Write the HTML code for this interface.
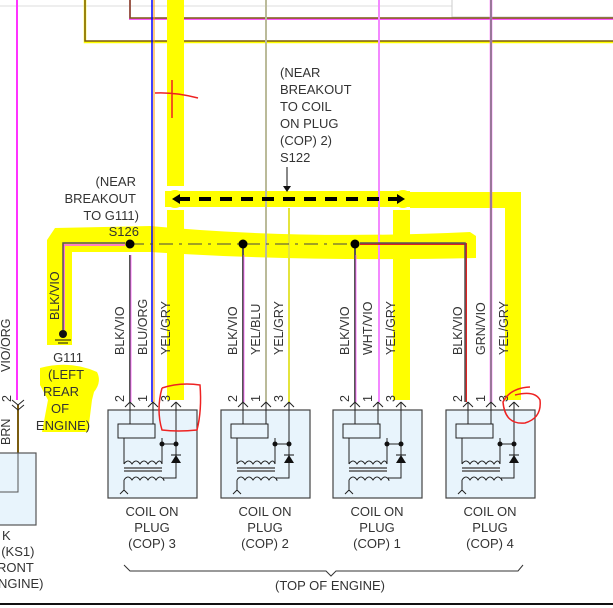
<!DOCTYPE html>
<html><head><meta charset="utf-8"><style>
html,body{margin:0;padding:0;background:#fff;}
svg{display:block;font-family:"Liberation Sans",Arial,sans-serif;}
</style></head><body>
<svg width="613" height="608" viewBox="0 0 613 608" xmlns="http://www.w3.org/2000/svg">
<defs>
<g id="coil">
  <rect x="0" y="0" width="89" height="88" fill="#e8f4fc" stroke="#444" stroke-width="1.2"/>
  <path d="M22 -8 l-5 5 M22 -8 l5 5 M45 -8 l-5 5 M45 -8 l5 5 M68 -8 l-5 5 M68 -8 l5 5" stroke="#222" fill="none"/>
  <path d="M22 -8 V14 M45 -8 V14 M68 -8 V68 H55" stroke="#222" fill="none"/>
  <rect x="10" y="14" width="37" height="14" fill="#e8f4fc" stroke="#222"/>
  <path d="M16 28 V54 M54 28 V34 H68 M54 34 V54" stroke="#222" fill="none"/>
  <circle cx="54" cy="34" r="2.5" fill="#111"/><circle cx="68" cy="34" r="2.5" fill="#111"/>
  <path d="M63 53 H73 L68 45 Z" fill="#111"/><path d="M63 45 H73" stroke="#111"/>
  <path d="M16 54 q4 -6 8 0 q4 -6 8 0 q4 -6 8 0 q4 -6 8 0 q4 -6 6 0" stroke="#222" fill="none"/>
  <path d="M16 58 H54 M16 61 H54" stroke="#555" stroke-width="1.5"/>
  <path d="M16 70 q4 -6 8 0 q4 -6 8 0 q4 -6 8 0 q4 -6 8 0 q4 -6 8 0 H55 M16 70 V80 M16 80 l-4 4 M16 80 l4 4" stroke="#222" fill="none"/>
</g>
</defs>
<!-- top -->
<line x1="0" y1="6" x2="452" y2="6" stroke="#ddd"/>
<rect x="452" y="-1" width="170" height="18" fill="#fff" stroke="#ccc"/>
<path d="M130 0 V19 H613" stroke="#f5f" stroke-width="2" fill="none"/>
<path d="M130 0 V18 H613" stroke="#7a5c10" stroke-width="1.5" fill="none"/>
<path d="M85 0 V42 H613" stroke="#ff0" stroke-width="2.5" fill="none"/>
<path d="M85 0 V41 H613" stroke="#7a5c10" stroke-width="1.5" fill="none"/>

<!-- highlights -->
<rect x="167" y="0" width="17" height="186" fill="#ff0"/>
<rect x="167" y="210" width="17" height="190" fill="#ff0"/>
<rect x="410" y="192" width="111" height="16" fill="#ff0"/>
<rect x="505" y="192" width="16" height="208" fill="#ff0"/>
<rect x="393" y="210" width="17" height="190" fill="#ff0"/>
<rect x="165" y="191" width="245" height="16" fill="#ff0"/>
<circle cx="175" cy="199" r="9" fill="#ff0"/><circle cx="403" cy="199" r="9" fill="#ff0"/>
<path d="M55 228 L150 226 Q300 240 470 232 L476 236 L476 258 Q300 262 150 252 L72 252 L72 345 L47 345 L47 240 Z" fill="#ff0"/>
<path d="M40 368 Q70 360 97 372 Q102 382 94 392 L92 400 L88 432 L42 432 L48 400 L40 385 Z" fill="#ff0"/>

<!-- verticals -->
<line x1="17" y1="0" x2="17" y2="400" stroke="#f3f" stroke-width="2"/>
<line x1="18" y1="405" x2="18" y2="453" stroke="#7a5c10" stroke-width="2"/>
<line x1="152" y1="0" x2="152" y2="402" stroke="#00f" stroke-width="1.5"/>
<line x1="154" y1="0" x2="154" y2="402" stroke="#f90" stroke-width="1"/>
<line x1="266" y1="0" x2="266" y2="402" stroke="#99f" stroke-width="2"/>
<line x1="266" y1="0" x2="266" y2="402" stroke="#ee0" stroke-width="0.8"/>
<line x1="379" y1="0" x2="379" y2="402" stroke="#e5f" stroke-width="2"/>
<line x1="379" y1="0" x2="379" y2="402" stroke="#fff" stroke-width="0.6"/>
<line x1="491" y1="0" x2="491" y2="402" stroke="#f5f" stroke-width="2.5"/>
<line x1="491" y1="0" x2="491" y2="402" stroke="#393" stroke-width="1"/>
<line x1="289" y1="208" x2="289" y2="402" stroke="#ee0" stroke-width="2"/>
<line x1="289" y1="208" x2="289" y2="402" stroke="#ccc" stroke-width="0.6"/>

<!-- splice line -->
<path d="M64 330 V245 H125" stroke="#f5f" stroke-width="1.5" fill="none"/>
<path d="M63 330 V243 H125" stroke="#555" stroke-width="1.5" fill="none"/>
<line x1="130" y1="244" x2="355" y2="244" stroke="#444" stroke-width="1" stroke-dasharray="14 6 3 6"/>
<path d="M360 244 H466 V402" stroke="#d22" stroke-width="2" fill="none"/>
<path d="M360 243 H465 V402" stroke="#555" stroke-width="1.5" fill="none"/>
<line x1="130" y1="255" x2="130" y2="402" stroke="#555" stroke-width="2"/>
<line x1="131" y1="255" x2="131" y2="402" stroke="#f5f" stroke-width="0.8"/>
<line x1="243" y1="244" x2="243" y2="402" stroke="#555" stroke-width="2"/>
<line x1="244" y1="255" x2="244" y2="402" stroke="#f5f" stroke-width="0.8"/>
<line x1="355" y1="244" x2="355" y2="402" stroke="#555" stroke-width="2"/>
<line x1="356" y1="255" x2="356" y2="402" stroke="#f5f" stroke-width="0.8"/>
<circle cx="130" cy="244" r="4.5" fill="#000"/>
<circle cx="243" cy="244" r="4.5" fill="#000"/>
<circle cx="355" cy="244" r="4.5" fill="#000"/>

<!-- ground -->
<circle cx="63" cy="334" r="4" fill="#111"/>
<path d="M55 340 H71 M58 343 H68" stroke="#111"/>

<!-- dashed -->
<line x1="178" y1="199" x2="398" y2="199" stroke="#000" stroke-width="4" stroke-dasharray="12 9"/>
<path d="M172 199 l8 -5 v10 z M405 199 l-8 -5 v10 z" fill="#000"/>
<line x1="287" y1="167" x2="287" y2="188" stroke="#111"/>
<path d="M283 186 h8 l-4 6 z" fill="#111"/>

<!-- text -->
<g font-size="13" fill="#333">
<text x="280" y="77">(NEAR</text><text x="280" y="94">BREAKOUT</text><text x="280" y="111">TO COIL</text><text x="280" y="128">ON PLUG</text><text x="280" y="145">(COP) 2)</text><text x="280" y="162">S122</text>
<g text-anchor="end"><text x="136" y="186">(NEAR</text><text x="136" y="203">BREAKOUT</text><text x="139" y="220">TO G111)</text><text x="139" y="236">S126</text></g>
<g text-anchor="middle"><text x="68" y="362">G111</text><text x="66" y="379">(LEFT</text><text x="61" y="396">REAR</text><text x="60" y="413">OF</text><text x="63" y="430">ENGINE)</text></g>
<text x="2" y="540">K</text><text x="-6" y="556">I (KS1)</text><text x="-3" y="572">RONT</text><text x="-2" y="588">NGINE)</text>
</g>
<g font-size="12.5" fill="#333">
<text transform="translate(10,372) rotate(-90)">VIO/ORG</text>
<text transform="translate(10,445) rotate(-90)">BRN</text>
<text transform="translate(59,320) rotate(-90)">BLK/VIO</text>
<text transform="translate(124,355) rotate(-90)">BLK/VIO</text>
<text transform="translate(147,355) rotate(-90)">BLU/ORG</text>
<text transform="translate(170,355) rotate(-90)">YEL/GRY</text>
<text transform="translate(237,355) rotate(-90)">BLK/VIO</text>
<text transform="translate(260,355) rotate(-90)">YEL/BLU</text>
<text transform="translate(283,355) rotate(-90)">YEL/GRY</text>
<text transform="translate(349,355) rotate(-90)">BLK/VIO</text>
<text transform="translate(372,355) rotate(-90)">WHT/VIO</text>
<text transform="translate(395,355) rotate(-90)">YEL/GRY</text>
<text transform="translate(462,355) rotate(-90)">BLK/VIO</text>
<text transform="translate(485,355) rotate(-90)">GRN/VIO</text>
<text transform="translate(508,355) rotate(-90)">YEL/GRY</text>
<text transform="translate(11,402) rotate(-90)">2</text>
<text transform="translate(124,402) rotate(-90)">2</text><text transform="translate(147,402) rotate(-90)">1</text><text transform="translate(170,402) rotate(-90)">3</text>
<text transform="translate(237,402) rotate(-90)">2</text><text transform="translate(260,402) rotate(-90)">1</text><text transform="translate(283,402) rotate(-90)">3</text>
<text transform="translate(349,402) rotate(-90)">2</text><text transform="translate(372,402) rotate(-90)">1</text><text transform="translate(395,402) rotate(-90)">3</text>
<text transform="translate(462,402) rotate(-90)">2</text><text transform="translate(485,402) rotate(-90)">1</text><text transform="translate(508,402) rotate(-90)">3</text>
</g>

<!-- left KS box -->
<rect x="-2" y="453" width="38" height="72" fill="#e8f4fc" stroke="#555" stroke-width="1.2"/>
<path d="M18 453 V492 H0" stroke="#555" fill="none"/>
<path d="M12 400 l6 5 l6 -5 M12 405 l6 5 l6 -5" stroke="#222" fill="none"/>

<!-- coils -->
<use href="#coil" transform="translate(108,410)"/>
<use href="#coil" transform="translate(221,410)"/>
<use href="#coil" transform="translate(333,410)"/>
<use href="#coil" transform="translate(446,410)"/>
<g font-size="13" fill="#333" text-anchor="middle">
<text x="152" y="516">COIL ON</text><text x="152" y="532">PLUG</text><text x="152" y="548">(COP) 3</text>
<text x="265" y="516">COIL ON</text><text x="265" y="532">PLUG</text><text x="265" y="548">(COP) 2</text>
<text x="377" y="516">COIL ON</text><text x="377" y="532">PLUG</text><text x="377" y="548">(COP) 1</text>
<text x="490" y="516">COIL ON</text><text x="490" y="532">PLUG</text><text x="490" y="548">(COP) 4</text>
<text x="330" y="590">(TOP OF ENGINE)</text>
</g>
<path d="M124 565 L130 571 H326 L331 576 L336 571 H518 L523 565" stroke="#333" fill="none"/>
<line x1="0" y1="604" x2="613" y2="604" stroke="#111" stroke-width="2"/>

<!-- red annotations -->
<g stroke="#e22" stroke-width="1.5" fill="none">
<path d="M172 80 V118 M155 93 Q175 92 198 98"/>
<path d="M162 388 Q180 382 200 385 Q202 410 197 430 Q178 432 162 430 Q156 410 162 388"/>
<path d="M530 387 Q510 388 503 402 Q505 425 525 423 Q542 418 540 400 Q535 390 515 395"/>
</g>
</svg>
</body></html>
